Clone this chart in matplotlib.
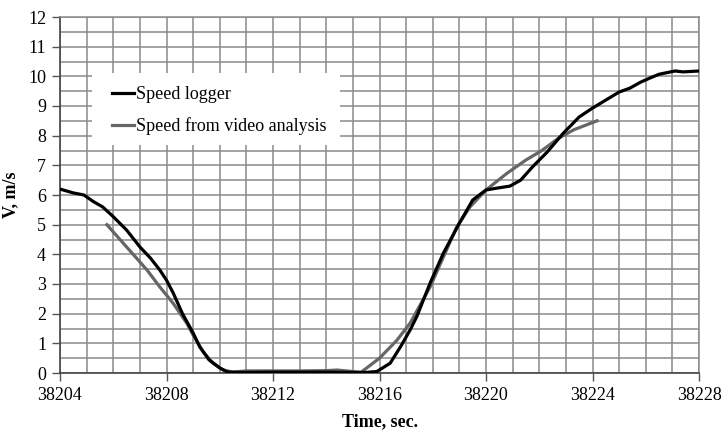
import matplotlib
matplotlib.use("Agg")
import matplotlib.pyplot as plt
from matplotlib.patches import Rectangle
from matplotlib.ticker import MultipleLocator

t_logger = [38204.0, 38204.5, 38204.9, 38205.25, 38205.6, 38206.0, 38206.5, 38207.0, 38207.4,
            38207.75, 38208.0, 38208.25, 38208.6, 38209.0, 38209.25, 38209.6, 38210.0, 38210.3,
            38211, 38212, 38213, 38214, 38215, 38215.5, 38215.9, 38216.4, 38216.8, 38217.15,
            38217.4, 38217.9, 38218.4, 38219.0, 38219.5, 38220.0, 38220.4, 38220.9, 38221.3,
            38221.75, 38222.3, 38222.9, 38223.5, 38224.0, 38224.5, 38225.0, 38225.4, 38225.8,
            38226.15, 38226.5, 38227.1, 38227.4, 38228.0]
v_logger = [6.2, 6.07, 6.0, 5.78, 5.6, 5.27, 4.82, 4.25, 3.87, 3.47, 3.13, 2.7, 2.0, 1.35, 0.88,
            0.44, 0.17, 0.03, 0.02, 0.03, 0.03, 0.03, 0.02, 0.02, 0.05, 0.33, 0.9, 1.45, 1.9,
            3.03, 4.04, 5.05, 5.83, 6.17, 6.23, 6.3, 6.5, 6.95, 7.45, 8.08, 8.63, 8.93, 9.2,
            9.47, 9.6, 9.8, 9.94, 10.07, 10.18, 10.15, 10.18]

t_video = [38205.76, 38206.5, 38207.27, 38207.75, 38208.25, 38208.76, 38209.0, 38209.38,
           38209.75, 38210.13, 38210.5, 38211, 38212, 38213, 38214, 38214.4, 38215, 38215.3,
           38216.0, 38216.65, 38217.15, 38217.9, 38218.9, 38219.4, 38220.0, 38220.8, 38221.5,
           38222.1, 38222.7, 38223.3, 38224.17]
v_video = [5.0, 4.25, 3.47, 2.9, 2.35, 1.68, 1.28, 0.71, 0.33, 0.1, 0.03, 0.07, 0.07, 0.07,
           0.08, 0.1, 0.05, 0.02, 0.5, 1.1, 1.68, 2.9, 4.92, 5.6, 6.17, 6.74, 7.18, 7.5, 7.9,
           8.2, 8.5]

series_labels = ["Speed logger", "Speed from video analysis"]
x_ticks = [38204, 38208, 38212, 38216, 38220, 38224, 38228]
y_ticks = list(range(0, 13))

plt.rcParams['font.family'] = ['Liberation Serif', 'DejaVu Serif']

fig = plt.figure(figsize=(7.23, 4.30), dpi=100)
ax = fig.add_axes([60/723, (430-373)/430, 639/723, 356/430])

ax.set_xlim(38204, 38228)
ax.set_ylim(0, 12)
ax.set_xticks(x_ticks)
ax.set_xticklabels([str(v) for v in x_ticks])
ax.set_yticks(y_ticks)
ax.xaxis.set_minor_locator(MultipleLocator(1))
ax.yaxis.set_minor_locator(MultipleLocator(0.5))
ax.tick_params(axis='both', which='major', labelsize=13, length=6, width=1, color='#555555',
               direction='out', pad=4)
ax.tick_params(axis='both', which='minor', length=0)
ax.set_axisbelow(True)
ax.grid(True, which='both', color='#8a8a8a', linewidth=1.1)

for s in ['left', 'bottom']:
    ax.spines[s].set_color('#444444')
    ax.spines[s].set_linewidth(1.2)
for s in ['top', 'right']:
    ax.spines[s].set_color('#8a8a8a')
    ax.spines[s].set_linewidth(1.1)

ax.add_patch(Rectangle((32/639, (373-145)/356), (340-92)/639, 72/356, transform=ax.transAxes,
                       facecolor='white', edgecolor='none', zorder=1))

l1, = ax.plot(t_logger, v_logger, color='#000000', linewidth=2.3, zorder=3, label=series_labels[0])
l2, = ax.plot(t_video, v_video, color='#666666', linewidth=2.3, zorder=2, label=series_labels[1])

ax.legend(handles=[l1, l2], loc='center left', bbox_to_anchor=((112-60)/639, (373-110.5)/356),
          frameon=False, fontsize=13, handlelength=1.2, handletextpad=0.15, labelspacing=0.8,
          borderpad=0, borderaxespad=0)

ax.set_xlabel("Time, sec.", fontsize=13, fontweight='bold', labelpad=7)
ax.set_ylabel("V, m/s", fontsize=13, fontweight='bold', labelpad=6)

fig.savefig("out.png", dpi=100)
